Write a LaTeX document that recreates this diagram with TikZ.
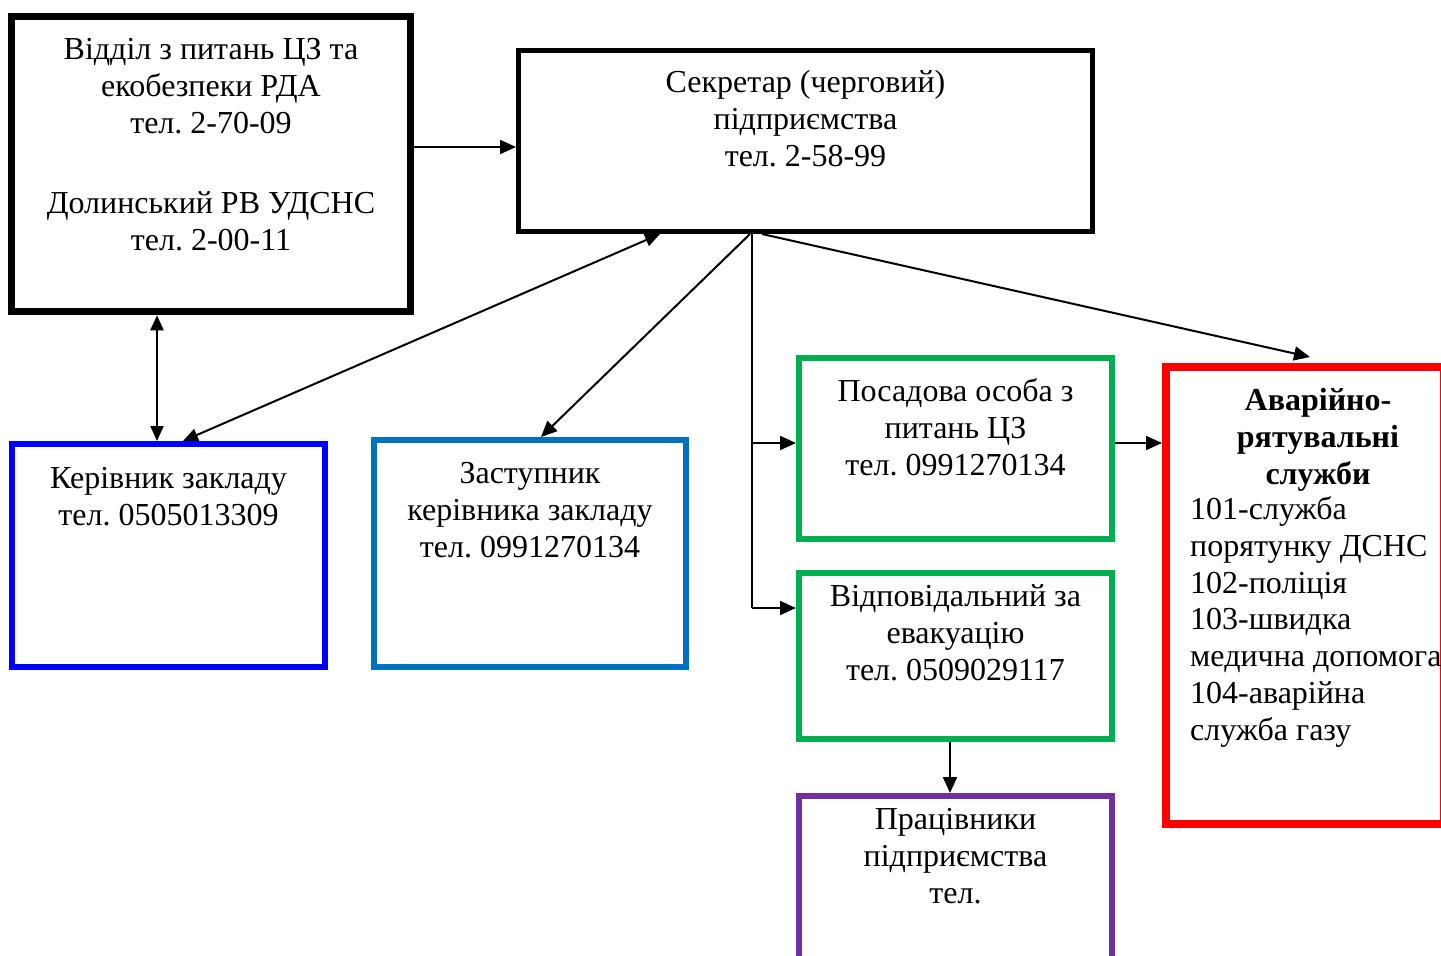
\documentclass[tikz,border=0pt]{standalone}
\usepackage{fontspec}
\setmainfont{Liberation Serif}
\frenchspacing
\usetikzlibrary{arrows.meta,calc}
\definecolor{cblue}{RGB}{0,0,255}
\definecolor{cmid}{RGB}{0,112,192}
\definecolor{cgreen}{RGB}{0,176,80}
\definecolor{cpurple}{RGB}{112,48,160}
\definecolor{cred}{RGB}{255,0,0}
\begin{document}
\begin{tikzpicture}[x=1pt,y=-1pt,
  box/.style={draw, rectangle, inner sep=0pt},
  txt/.style={font=\fontsize{32}{37}\selectfont, align=center, anchor=north, inner sep=0pt},
  arr/.style={line width=2pt, -{Triangle[length=16pt,width=14pt]}},
  darr/.style={line width=2pt, {Triangle[length=15pt,width=13pt]}-{Triangle[length=15pt,width=13pt]}},
  plain/.style={line width=1.5pt}
]
\useasboundingbox (0,0) rectangle (1441,956);

% boxes
\node[box, line width=7pt, minimum width=399pt, minimum height=295.5pt] (b1) at (211,164) {};
\node[box, line width=5pt, minimum width=574pt, minimum height=181pt] (b2) at (805.5,141) {};
\node[box, draw=cblue, line width=6pt, minimum width=313pt, minimum height=223pt] (b3) at (168.5,555.5) {};
\node[box, draw=cmid, line width=6pt, minimum width=312pt, minimum height=227pt] (b4) at (530,553.5) {};
\node[box, draw=cgreen, line width=6pt, minimum width=313pt, minimum height=181pt] (b5) at (955.5,448.5) {};
\node[box, draw=cgreen, line width=6pt, minimum width=313pt, minimum height=166pt] (b6) at (955.5,656) {};
\node[box, draw=cpurple, line width=6pt, minimum width=313pt, minimum height=204pt] (b7) at (955.5,898) {};
\node[box, draw=cred, line width=8pt, minimum width=278pt, minimum height=457pt] (b8) at (1305,595.5) {};

% texts
\node[txt] (t1) at (211,33) {\strut Відділ з питань ЦЗ та\\ екобезпеки РДА\\ тел. 2-70-09\\[43pt] Долинський РВ УДСНС\\ тел. 2-00-11};
\node[txt] (t2) at (805.5,66) {\strut Секретар (черговий)\\ підприємства\\ тел. 2-58-99};
\node[txt] (t3) at (168.5,462) {\strut Керівник закладу\\ тел. 0505013309};
\node[txt] (t4) at (530,457) {\strut Заступник\\ керівника закладу\\ тел. 0991270134};
\node[txt] (t5) at (955.5,375) {\strut Посадова особа з\\ питань ЦЗ\\ тел. 0991270134};
\node[txt] (t6) at (955.5,580) {\strut Відповідальний за\\ евакуацію\\ тел. 0509029117};
\node[txt] (t7) at (955.5,803) {\strut Працівники\\ підприємства\\ тел.};
\node[txt, font=\fontsize{32}{37}\selectfont\bfseries] (t8a) at (1318,384) {\strut Аварійно-\\ рятувальні\\ служби};
\node[txt, align=left, anchor=north west, font=\fontsize{32}{36.7}\selectfont] (t8b) at (1190,494) {\strut 101-служба\\ порятунку ДСНС\\ 102-поліція\\ 103-швидка\\ медична допомога\\ 104-аварійна\\ служба газу};

% helper coordinates
\coordinate (v) at (157,0);
\coordinate (trunk) at (752,0);
\coordinate (p5) at ([yshift=5.5pt]b5.west);
\coordinate (p6) at ([yshift=48pt]b6.west);
\coordinate (p5e) at ([yshift=5.5pt]b5.east);

% connectors
\draw[arr] ([yshift=17pt]b1.east) -- ([yshift=-6pt]b2.west);
\draw[darr] (b1.south -| v) -- (b3.north -| v);
\draw[darr] ([xshift=-145.5pt]b2.south) -- ([xshift=14.5pt]b3.north);
\draw[arr] ([xshift=-55.5pt]b2.south) -- ([xshift=11pt]b4.north);
\draw[plain] (b2.south -| trunk) -- (p6 -| trunk);
\draw[arr] (p5 -| trunk) -- (p5);
\draw[arr] (p6 -| trunk) -- (p6);
\draw[arr] ([xshift=-43.5pt]b2.south) -- ([xshift=5pt,yshift=6pt]b8.north);
\draw[arr] (p5e) -- (b8.west |- p5e);
\draw[arr] ([xshift=-5.5pt]b6.south) -- ([xshift=-5.5pt]b7.north);
\end{tikzpicture}
\end{document}
